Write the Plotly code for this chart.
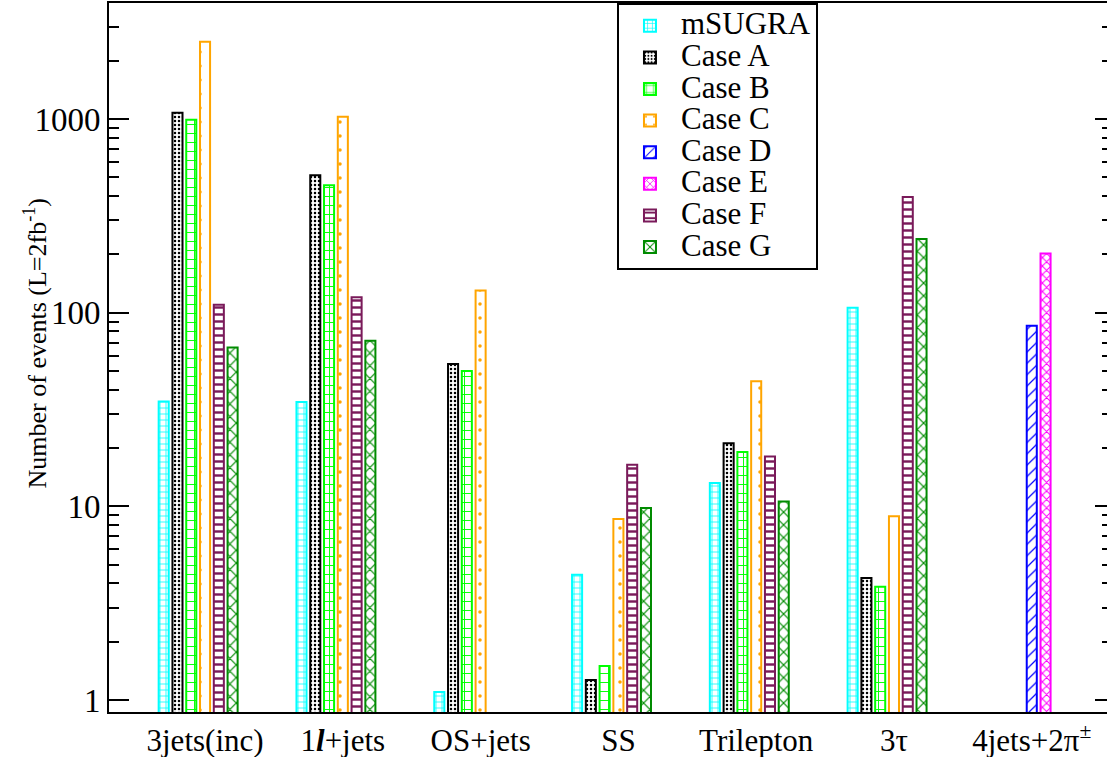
import plotly.graph_objects as go

# ---- data ----
groups = ["3jets(inc)", "1<b><i>l</i></b>+jets", "OS+jets", "SS", "Trilepton", "3τ", "4jets+2π<sup>±</sup>"]
series_names = ["mSUGRA", "Case A", "Case B", "Case C", "Case D", "Case E", "Case F", "Case G"]
msugra = [34.8, 34.6, 1.10, 4.43, 13.2, 106, None]
case_a = [1077, 512, 54.3, 1.27, 21.2, 4.26, None]
case_b = [990, 455, 50.0, 1.50, 19.1, 3.84, None]
case_c = [2505, 1026, 130, 8.59, 44.2, 8.90, None]
case_d = [None, None, None, None, None, None, 85.7]
case_e = [None, None, None, None, None, None, 202]
case_f = [110, 120, None, 16.4, 18.1, 396, None]
case_g = [66, 71.7, None, 9.79, 10.6, 240, None]
y_tick_vals = [1, 10, 100, 1000]
y_tick_text = ["1", "10", "100", "1000"]
y_title = "Number of events (L=2fb<sup>-1</sup>)"

values = [msugra, case_a, case_b, case_c, case_d, case_e, case_f, case_g]

# ---- styles ----
colors = ["#00FFFF", "#000000", "#00FF00", "#FFA500", "#0000FF", "#FF00FF", "#7A1A5A", "#008B00"]
slot = [-3, -2, -1, 0, 0, 1, 1, 2]
patterns = [
    dict(shape="+", size=6, solidity=0.25),
    dict(shape=".", size=4, solidity=0.3),
    dict(shape="+", size=9, solidity=0.2),
    dict(shape=".", size=14, solidity=0.05),
    dict(shape="/", size=8, solidity=0.15),
    dict(shape="x", size=6, solidity=0.3),
    dict(shape="-", size=7, solidity=0.35),
    dict(shape="x", size=9, solidity=0.25),
]
pitch = 0.1
bar_w = 0.073
FONT = "Liberation Serif, Times New Roman, serif"
LEG_SPAN = '<span style="font-size:31px">{}</span>'

fig = go.Figure()
for name, vals, col, s, pat in zip(series_names, values, colors, slot, patterns):
    xs, ys = [], []
    for gi, v in enumerate(vals):
        if v is not None:
            xs.append(gi + s * pitch)
            ys.append(v)
    fig.add_trace(go.Bar(
        x=xs, y=ys, name=LEG_SPAN.format(name), width=bar_w,
        marker=dict(color="white", line=dict(color=col, width=2),
                    pattern=dict(shape=pat["shape"], size=pat["size"], solidity=pat["solidity"],
                                 fgcolor=col, bgcolor="white", fillmode="replace")),
    ))

# empty helper trace so the mirrored right-hand tick axis is drawn
fig.add_trace(go.Scatter(x=[], y=[], yaxis="y2", showlegend=False, hoverinfo="skip"))

minor_vals = [d * 10 ** e for e in range(0, 4) for d in range(2, 10)]
yr = [-0.062, 3.599]

fig.update_layout(
    width=1107, height=757,
    margin=dict(l=109, r=0, t=3, b=45),
    paper_bgcolor="white", plot_bgcolor="white",
    barmode="overlay",
    font=dict(family=FONT, color="black"),
    showlegend=True,
    legend=dict(x=0.509, y=1.0, xanchor="left", yanchor="top",
                bgcolor="white", bordercolor="black", borderwidth=2,
                font=dict(size=22, family=FONT), traceorder="normal",
                itemwidth=52, tracegroupgap=0),
    xaxis=dict(range=[-0.697, 6.546], tickvals=list(range(len(groups))), ticktext=groups,
               showline=True, linecolor="black", linewidth=2, mirror=True,
               ticks="", showgrid=False, zeroline=False,
               tickfont=dict(size=31, family=FONT)),
    yaxis=dict(type="log", range=yr, tickvals=y_tick_vals, ticktext=y_tick_text,
               showline=True, linecolor="black", linewidth=2, mirror=False,
               ticks="inside", ticklen=20, tickwidth=2, tickcolor="black",
               minor=dict(ticks="inside", ticklen=10, tickwidth=2, tickcolor="black",
                          tickvals=minor_vals, showgrid=False),
               showgrid=False, zeroline=False,
               tickfont=dict(size=33, family=FONT)),
    yaxis2=dict(type="log", range=yr, overlaying="y", side="right", anchor="x",
                showline=False, showticklabels=False, showgrid=False, zeroline=False,
                tickvals=y_tick_vals, ticks="inside", ticklen=12, tickwidth=2, tickcolor="black",
                minor=dict(ticks="inside", ticklen=5, tickwidth=2, tickcolor="black",
                           tickvals=minor_vals, showgrid=False)),
    annotations=[dict(text=y_title, textangle=-90, xref="paper", yref="paper",
                      x=-0.074, y=0.52, xanchor="center", yanchor="middle",
                      showarrow=False, font=dict(size=26, family=FONT))],
)

fig.write_html("out.html", config={"displayModeBar": False},
               post_script="document.body.style.margin='0px';")
